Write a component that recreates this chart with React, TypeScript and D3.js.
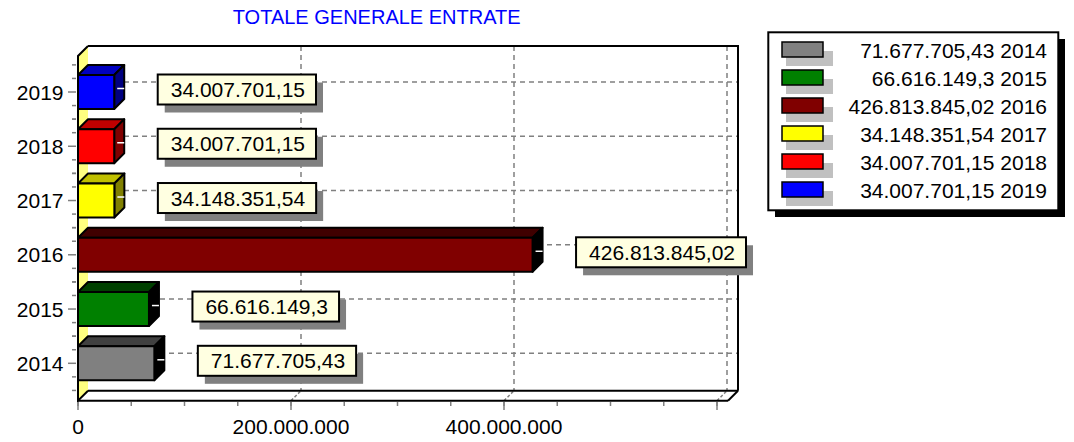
import React from 'react';
import * as d3 from 'd3';

const title = 'TOTALE GENERALE ENTRATE';
const years = ['2014', '2015', '2016', '2017', '2018', '2019'];
const values = [71677705.43, 66616149.3, 426813845.02, 34148351.54, 34007701.15, 34007701.15];
const frontColors = ['#808080', '#008000', '#800000', '#ffff00', '#ff0000', '#0000ff'];
const topColors = ['#404040', '#004000', '#400000', '#c0c000', '#c00000', '#0000c0'];
const sideColors = ['#000000', '#000000', '#000000', '#808000', '#800000', '#000080'];
const xMajorTicks = [0, 200000000, 400000000, 600000000];
const xMinorStep = 50000000;

const it = d3.formatLocale({ decimal: ',', thousands: '.', grouping: [3], currency: ['€', ''] });
const fmtVal = it.format(',.2~f');
const fmtTick = it.format(',d');

const FONT = '"Liberation Sans", Arial, sans-serif';

export default function App() {
  const W = 1074, H = 442;
  const left = 78, frontRight = 728, frontTop = 56, frontBottom = 400.7;
  const dx = 10, dy = 10;
  const x = d3.scaleLinear().domain([0, 600000000]).range([left, 717]);
  const y = d3.scalePoint<string>().domain([...years].reverse()).range([92, 363.3]);
  const step = y.step();
  const barH = 34;

  const minorTicks = d3.range(0, 600000001, xMinorStep);
  const yMinor: number[] = [];
  years.forEach((yr) => {
    const c = y(yr)!;
    [-0.5, -0.25, 0.25, 0.5].forEach((k) => yMinor.push(c + k * step));
  });

  const dash = '5,4';
  const grey = '#808080';

  return (
    <svg width={W} height={H} style={{ position: 'absolute', left: 0, top: 0, background: '#fff' }} fontFamily={FONT}>
      <rect x={0} y={0} width={W} height={H} fill="#fff" />
      {/* title */}
      <text x={376.7} y={24.3} textAnchor="middle" fontSize={20} fill="#0000ff">{title}</text>

      {/* back wall */}
      <rect x={left + dx} y={frontTop - dy} width={frontRight - left} height={frontBottom - frontTop} fill="#fff" />
      {/* back wall horizontal gridlines */}
      {years.map((yr) => (
        <line key={'hg' + yr} x1={left + dx} x2={frontRight + dx} y1={y(yr)! - dy} y2={y(yr)! - dy}
          stroke={grey} strokeWidth={1.5} strokeDasharray={dash} />
      ))}
      {/* back wall vertical gridlines + floor diagonals */}
      {xMajorTicks.filter((t) => t > 0).map((t) => (
        <g key={'vg' + t}>
          <line x1={x(t) + dx} x2={x(t) + dx} y1={frontTop - dy} y2={frontBottom - dy}
            stroke={grey} strokeWidth={1.5} strokeDasharray={dash} />
          <line x1={x(t)} x2={x(t) + dx} y1={frontBottom} y2={frontBottom - dy}
            stroke={grey} strokeWidth={1.5} strokeDasharray="3,2" />
        </g>
      ))}
      {/* back frame */}
      <polyline points={`${left + dx},${frontTop - dy} ${frontRight + dx},${frontTop - dy} ${frontRight + dx},${frontBottom - dy}`}
        fill="none" stroke="#000" strokeWidth={2} />
      {/* floor */}
      <line x1={left + dx} x2={frontRight + dx} y1={frontBottom - dy} y2={frontBottom - dy} stroke="#000" strokeWidth={2} />
      <line x1={frontRight} x2={frontRight + dx} y1={frontBottom} y2={frontBottom - dy} stroke="#000" strokeWidth={2} />
      <line x1={left} x2={frontRight} y1={frontBottom} y2={frontBottom} stroke="#000" strokeWidth={2} />
      {/* left wall */}
      <polygon points={`${left},${frontTop} ${left + dx},${frontTop - dy} ${left + dx},${frontBottom - dy} ${left},${frontBottom}`}
        fill="#ffff80" stroke="none" />
      <polyline points={`${left + dx},${frontBottom - dy} ${left},${frontBottom} ${left},${frontTop} ${left + dx},${frontTop - dy}`}
        fill="none" stroke="#000" strokeWidth={2} />

      {/* bars */}
      {years.map((yr, i) => {
        const c = y(yr)!;
        const y0 = c - barH / 2, y1 = c + barH / 2;
        const xv = x(values[i]);
        return (
          <g key={'bar' + yr} stroke="#000" strokeWidth={2} strokeLinejoin="round">
            <polygon points={`${left},${y0} ${left + dx},${y0 - dy} ${xv + dx},${y0 - dy} ${xv},${y0}`} fill={topColors[i]} />
            <polygon points={`${xv},${y0} ${xv + dx},${y0 - dy} ${xv + dx},${y1 - dy} ${xv},${y1}`} fill={sideColors[i]} />
            <rect x={left} y={y0} width={xv - left} height={barH} fill={frontColors[i]} />
            <line x1={xv + 3} x2={xv + 10} y1={c - 3.5} y2={c - 3.5} stroke="#fff" strokeWidth={1.5} />
          </g>
        );
      })}

      {/* value labels */}
      {years.map((yr, i) => {
        const c = y(yr)! - 2.5;
        const label = fmtVal(values[i]);
        const tw = label.replace(/[.,]/g, '').length * 0.556 * 21 + (label.length - label.replace(/[.,]/g, '').length) * 0.278 * 21;
        const bw = tw + 24, bh = 30;
        const bx = x(values[i]) + 43.5;
        const by = c - bh / 2;
        return (
          <g key={'lab' + yr}>
            <rect x={bx + 7} y={by + 8} width={bw} height={bh} fill="#808080" />
            <rect x={bx} y={by} width={bw} height={bh} fill="#ffffe1" stroke="#000" strokeWidth={2} />
            <text x={bx + 13} y={c + 7.6} fontSize={21} fill="#000">{label}</text>
          </g>
        );
      })}

      {/* y axis ticks and labels */}
      {yMinor.map((v, i) => (
        <line key={'ym' + i} x1={72} x2={76} y1={v} y2={v} stroke={grey} strokeWidth={1.5} />
      ))}
      {years.map((yr) => (
        <g key={'yt' + yr}>
          <line x1={68} x2={76} y1={y(yr)!} y2={y(yr)!} stroke={grey} strokeWidth={1.5} />
          <text x={63.5} y={y(yr)! + 7.5} textAnchor="end" fontSize={21} fill="#000">{yr}</text>
        </g>
      ))}

      {/* x axis ticks and labels */}
      {minorTicks.map((t) => (
        <line key={'xm' + t} x1={x(t)} x2={x(t)} y1={402} y2={406} stroke={grey} strokeWidth={1.5} />
      ))}
      {xMajorTicks.map((t) => (
        <line key={'xM' + t} x1={x(t)} x2={x(t)} y1={402} y2={410} stroke={grey} strokeWidth={1.5} />
      ))}
      {xMajorTicks.slice(0, 3).map((t) => (
        <text key={'xl' + t} x={x(t)} y={434} textAnchor="middle" fontSize={21} fill="#000">{fmtTick(t)}</text>
      ))}

      {/* legend */}
      <rect x={775} y={39} width={290} height={178} fill="#000" />
      <rect x={768.3} y={32.3} width={290} height={178} fill="#fff" stroke="#000" strokeWidth={2} />
      {years.map((yr, i) => (
        <g key={'lg' + yr}>
          <rect x={786} y={51 + 28 * i} width={47} height={15} fill="#c0c0c0" />
          <rect x={782} y={42 + 28 * i} width={41} height={15} fill={frontColors[i]} stroke="#000" strokeWidth={1.5} />
          <text x={1047} y={57.5 + 28 * i} textAnchor="end" fontSize={21} fill="#000">{`${fmtVal(values[i])} ${yr}`}</text>
        </g>
      ))}
    </svg>
  );
}
